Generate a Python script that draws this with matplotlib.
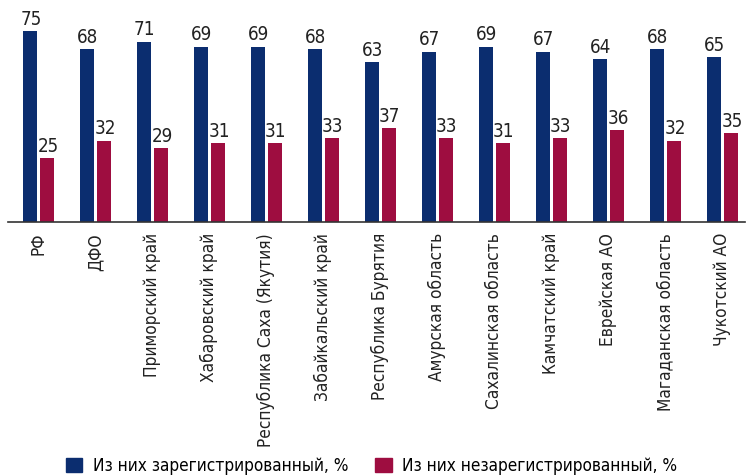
import numpy as np
import matplotlib.pyplot as plt
from matplotlib.patches import Patch

regions = ['РФ', 'ДФО', 'Приморский край', 'Хабаровский край',
           'Республика Саха (Якутия)', 'Забайкальский край',
           'Республика Бурятия', 'Амурская область', 'Сахалинская область',
           'Камчатский край', 'Еврейская АО', 'Магаданская область',
           'Чукотский АО']
registered = [75, 68, 71, 69, 69, 68, 63, 67, 69, 67, 64, 68, 65]
unregistered = [25, 32, 29, 31, 31, 33, 37, 33, 31, 33, 36, 32, 35]

blue = '#0B2D6F'
red = '#9E0D40'
plt.rcParams['font.family'] = ['DejaVu Sans']
plt.rcParams['font.stretch'] = 'condensed'

fig = plt.figure(figsize=(7.47, 4.76), dpi=100)
ax = fig.add_axes([8 / 747, 0.534, 737 / 747, 0.466])

x = np.arange(len(regions))
w = 0.245
b1 = ax.bar(x, registered, w, color=blue)
b2 = ax.bar(x + 0.3, unregistered, w, color=red)

# подписи значений над столбиками
for bars in (b1, b2):
    for r in bars:
        ax.text(r.get_x() + r.get_width() / 2 + 0.02, r.get_height() + 0.9,
                '%d' % r.get_height(), ha='center', va='bottom',
                fontsize=13.5, color='#222222')

ax.set_xlim(-0.381, 12.55)
ax.set_ylim(0, 87.4)
for s in ['top', 'right', 'left']:
    ax.spines[s].set_visible(False)
ax.spines['bottom'].set_color('#333333')
ax.spines['bottom'].set_linewidth(1.2)
ax.set_yticks([])
ax.set_xticks(x + 0.15)
ax.set_xticklabels(regions, rotation=90, fontsize=12.4, color='#222222')
ax.tick_params(axis='x', length=0, pad=8)

handles = [Patch(color=blue), Patch(color=red)]
fig.legend(handles, ['Из них зарегистрированный, %', 'Из них незарегистрированный, %'],
           loc='lower left', bbox_to_anchor=(0.068, -0.03), ncol=2,
           frameon=False, fontsize=12.3, handlelength=0.95, handleheight=0.95,
           handletextpad=0.6, columnspacing=1.6)

fig.savefig('out.png', dpi=100)
